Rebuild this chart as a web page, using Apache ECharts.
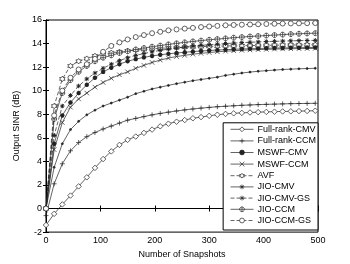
<!DOCTYPE html>
<html><head><meta charset="utf-8">
<script src="https://cdn.jsdelivr.net/npm/echarts@6/dist/echarts.min.js"></script>
<style>html,body{margin:0;padding:0;background:#fff}#c{width:350px;height:264px}</style>
</head><body><div id="c"></div>
<script>
var snapshots = [0,15,30,45,60,75,90,105,120,135,150,165,180,195,210,225,240,255,270,285,300,315,330,345,360,375,390,405,420,435,450,465,480,495];
var fullRankCMV = [-1.4,-0.45,0.35,1.1,1.88,2.65,3.45,4.2,4.85,5.4,5.83,6.11,6.42,6.7,6.98,7.2,7.37,7.51,7.66,7.76,7.87,7.96,8.03,8.08,8.12,8.15,8.18,8.2,8.22,8.24,8.25,8.27,8.28,8.3];
var fullRankCCM = [-0.6,2.1,3.8,4.9,5.6,6.1,6.45,6.75,7.0,7.25,7.5,7.65,7.8,7.95,8.07,8.18,8.28,8.37,8.45,8.52,8.58,8.64,8.68,8.72,8.76,8.79,8.82,8.84,8.86,8.88,8.9,8.91,8.92,8.93];
var mswfCMV = [0,3.5,5.5,6.7,7.4,7.95,8.35,8.7,8.95,9.2,9.45,9.75,9.95,10.15,10.3,10.45,10.6,10.72,10.85,10.95,11.05,11.15,11.3,11.4,11.5,11.58,11.65,11.7,11.75,11.8,11.83,11.86,11.88,11.9];
var mswfCCM = [0,5.0,7.3,8.6,9.3,9.8,10.3,10.7,11.05,11.35,11.6,11.9,12.15,12.4,12.6,12.77,12.9,13.0,13.1,13.17,13.24,13.3,13.35,13.39,13.43,13.46,13.49,13.51,13.53,13.55,13.56,13.57,13.58,13.59];
var avf = [0,8.7,11.0,12.1,12.5,12.72,12.95,13.1,13.22,13.3,13.38,13.45,13.5,13.55,13.6,13.63,13.66,13.69,13.72,13.74,13.76,13.78,13.8,13.81,13.82,13.83,13.84,13.85,13.86,13.87,13.88,13.88,13.89,13.9];
var jioCMV = [0,5.5,7.9,9.0,9.8,10.5,11.1,11.6,11.95,12.25,12.5,12.68,12.83,12.95,13.05,13.13,13.2,13.26,13.32,13.37,13.41,13.45,13.48,13.51,13.54,13.56,13.58,13.6,13.62,13.63,13.64,13.65,13.66,13.67];
var jioCMVGS = [0,6.2,8.7,9.6,10.4,11.0,11.5,11.9,12.25,12.55,12.8,13.0,13.15,13.3,13.42,13.53,13.62,13.7,13.78,13.85,13.9,13.95,14.0,14.04,14.08,14.11,14.14,14.17,14.19,14.21,14.23,14.25,14.26,14.27];
var jioCCM = [0,7.6,9.8,10.9,11.6,12.1,12.5,12.8,13.0,13.2,13.35,13.5,13.62,13.73,13.83,13.93,14.02,14.1,14.18,14.25,14.32,14.38,14.44,14.5,14.55,14.6,14.64,14.68,14.72,14.76,14.8,14.83,14.86,14.88];
var jioCCMGS = [0,7.9,10.0,11.1,11.8,12.25,12.7,13.3,13.8,14.1,14.35,14.55,14.72,14.88,15.0,15.12,15.2,15.27,15.33,15.4,15.45,15.5,15.55,15.58,15.6,15.62,15.64,15.66,15.68,15.7,15.71,15.72,15.73,15.74];
var seriesNames = ['Full-rank-CMV','Full-rank-CCM','MSWF-CMV','MSWF-CCM','AVF','JIO-CMV','JIO-CMV-GS','JIO-CCM','JIO-CCM-GS'];
var xTicks = [0,100,200,300,400,500];
var yTicks = [-2,0,2,4,6,8,10,12,14,16];

var values = [fullRankCMV,fullRankCCM,mswfCMV,mswfCCM,avf,jioCMV,jioCMVGS,jioCCM,jioCCMGS];
var plusP = 'path://M0,5L10,5M5,0L5,10';
var crossP = 'path://M1,1L9,9M9,1L1,9';
var hexP = 'path://M5,0L6.5,2.5L9.3,2.5L8,5L9.3,7.5L6.5,7.5L5,10L3.5,7.5L0.7,7.5L2,5L0.7,2.5L3.5,2.5Z';
var astP = 'path://M5,0L5,10M0,5L10,5M1.5,1.5L8.5,8.5M8.5,1.5L1.5,8.5';
var oplusP = 'path://M10,5L9.33,7.5L7.5,9.33L5,10L2.5,9.33L0.67,7.5L0,5L0.67,2.5L2.5,0.67L5,0L7.5,0.67L9.33,2.5ZM0,5L10,5M5,0L5,10';
var styles = [
  {sym:'diamond', size:5.5, fill:'#fff', dash:'solid'},
  {sym:plusP, size:5, fill:'none', dash:'solid'},
  {sym:'circle', size:2, fill:'#222', dash:'solid'},
  {sym:crossP, size:4.5, fill:'none', dash:'solid'},
  {sym:hexP, size:5.5, fill:'#fff', dash:[4,2]},
  {sym:astP, size:4.5, fill:'#222', dash:'solid', bw:1.3},
  {sym:astP, size:4.5, fill:'#222', dash:[4,2], bw:1.0},
  {sym:oplusP, size:5, fill:'#fff', dash:'solid'},
  {sym:'circle', size:5, fill:'#fff', dash:[4,2]}
];
var series = seriesNames.map(function(n,i){
  var st = styles[i];
  return {
    name:n, type:'line', xAxisIndex:0, yAxisIndex:0,
    data: snapshots.map(function(x,j){return [x, values[i][j]];}),
    symbol: st.sym, symbolSize: st.size, showAllSymbol:true,
    lineStyle:{color:'#222', width:0.7, type:st.dash},
    itemStyle:{color:st.fill, borderColor:'#222', borderWidth:st.bw||0.7, borderType:'solid'},
    emphasis:{disabled:true}, animation:false, z: 2+i
  };
});
var chart = echarts.init(document.getElementById('c'), null, {renderer:'canvas'});
var font = 'Liberation Sans, Arial, Helvetica, sans-serif';
chart.setOption({
  animation:false,
  textStyle:{fontFamily:font},
  grid:{left:46, right:32, top:20, bottom:30, show:true, borderColor:'#000', borderWidth:1, backgroundColor:'#fff'},
  xAxis:[{
    type:'value', min:0, max:500, interval:100, name:'Number of Snapshots', nameLocation:'middle', nameGap:14,
    nameTextStyle:{fontSize:9, color:'#000', fontFamily:font},
    axisLine:{show:true, lineStyle:{color:'#000', width:1}},
    axisTick:{inside:true, length:3, lineStyle:{color:'#000'}},
    axisLabel:{fontSize:9, color:'#000', margin:4, fontFamily:font},
    splitLine:{show:false}
  },{
    type:'value', position:'top', min:0, max:500, interval:100,
    axisLine:{show:true, lineStyle:{color:'#000'}}, axisTick:{inside:true, length:3, lineStyle:{color:'#000'}},
    axisLabel:{show:false}, splitLine:{show:false}
  }],
  yAxis:[{
    type:'value', min:-2, max:16, interval:2, name:'Output SINR (dB)', nameLocation:'middle', nameGap:24, nameRotate:90,
    nameTextStyle:{fontSize:9, color:'#000', fontFamily:font},
    axisLine:{show:true, lineStyle:{color:'#000', width:1}},
    axisTick:{inside:true, length:3, lineStyle:{color:'#000'}},
    axisLabel:{fontSize:9, color:'#000', margin:4, fontFamily:font},
    splitLine:{show:false}
  },{
    type:'value', position:'right', min:-2, max:16, interval:2,
    axisLine:{show:true, lineStyle:{color:'#000'}}, axisTick:{inside:true, length:3, lineStyle:{color:'#000'}},
    axisLabel:{show:false}, splitLine:{show:false}
  }],
  legend:{
    orient:'vertical', right:32, bottom:34, data:seriesNames,
    backgroundColor:'#fff', borderColor:'#000', borderWidth:1, borderRadius:0,
    padding:[2,2,5,7], itemWidth:23, itemHeight:6, itemGap:2.2,
    itemStyle:{borderWidth:0.7},
    lineStyle:{width:0.7},
    textStyle:{fontSize:9, color:'#000', fontFamily:font, padding:[0,0,0,-1]}
  },
  series:series
});
</script></body></html>
